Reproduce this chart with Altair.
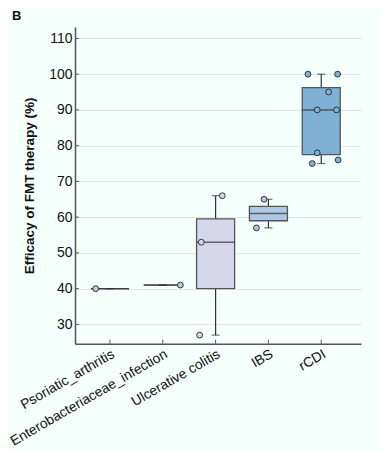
import altair as alt
import pandas as pd

categories = ["Psoriatic_arthritis", "Enterobacteriaceae_infection",
              "Ulcerative colitis", "IBS", "rCDI"]
point_category = ["Psoriatic_arthritis", "Enterobacteriaceae_infection",
                  "Ulcerative colitis", "Ulcerative colitis", "Ulcerative colitis",
                  "IBS", "IBS",
                  "rCDI", "rCDI", "rCDI", "rCDI", "rCDI", "rCDI", "rCDI", "rCDI"]
efficacy = [40, 41, 66, 53, 27, 65, 57, 100, 100, 95, 90, 90, 78, 75, 76]
# horizontal jitter of each dot, as a fraction of the category step
jitter = [-0.27, 0.333, 0.127, -0.27, -0.303, -0.083, -0.227,
          -0.252, 0.31, 0.14, -0.076, 0.29, -0.076, -0.17, 0.32]
y_ticks = [30, 40, 50, 60, 70, 80, 90, 100, 110]
fill_colors = ["#c4c4dc", "#c4c4dc", "#d7d7ea", "#aec7e5", "#7fb0d6"]

df = pd.DataFrame({"cat": point_category, "value": efficacy, "jit": jitter})
tick_df = pd.DataFrame({"t": y_ticks})

W = 286
H = 316.7
PAD_OUT = 0.207
BW = W / (len(categories) + 2 * PAD_OUT)
FONT = "Liberation Sans"

x_scale = alt.Scale(domain=categories, paddingInner=0, paddingOuter=PAD_OUT, align=0.39)
x_axis = alt.Axis(title=None, labelAngle=330, labelAlign="right", labelBaseline="top",
                  labelFontSize=13.8, labelColor="#111", labelPadding=3, ticks=False,
                  tickSize=0, domainColor="#555", domainWidth=1.5, grid=False,
                  labelFont=FONT, labelLimit=0)
y_scale = alt.Scale(domain=[24.6, 113.2], nice=False, zero=False)
y_axis = alt.Axis(title="Efficacy of FMT therapy (%)", values=y_ticks, ticks=False, tickSize=0,
                  labelFontSize=14, labelColor="#111", labelPadding=3, labelFont=FONT,
                  titleFontSize=13.5, titleFontWeight="bold", titleColor="#111",
                  titleFont=FONT, titlePadding=12,
                  domainColor="#555", domainWidth=1.5, grid=True,
                  gridColor="#e4e6e6", gridWidth=1)


def X():
    return alt.X("cat:N", scale=x_scale, sort=categories, axis=x_axis)


def Y(field):
    return alt.Y(field, type="quantitative", scale=y_scale, axis=y_axis)


fill = alt.Fill("cat:N", scale=alt.Scale(domain=categories, range=fill_colors), legend=None)

base = alt.Chart(df)
summary = base.transform_aggregate(
    q1="q1(value)", q3="q3(value)", med="median(value)",
    lo="min(value)", hi="max(value)", groupby=["cat"]
)

whisk_lo = summary.mark_rule(color="#333", strokeWidth=1.2).encode(
    x=X(), y=Y("lo"), y2="q1:Q")
whisk_hi = summary.mark_rule(color="#333", strokeWidth=1.2).encode(
    x=X(), y=Y("q3"), y2="hi:Q")
cap_lo = summary.mark_tick(color="#333", size=8, thickness=1.2).encode(x=X(), y=Y("lo"))
cap_hi = summary.mark_tick(color="#333", size=8, thickness=1.2).encode(x=X(), y=Y("hi"))
box = summary.mark_bar(width=38, stroke="#555", strokeWidth=1.3).encode(
    x=X(), y=Y("q1"), y2="q3:Q", fill=fill)
median = summary.mark_tick(color="#333", size=38, thickness=1.5).encode(x=X(), y=Y("med"))
points = base.mark_circle(size=34, stroke="#333", strokeWidth=1, opacity=1).encode(
    x=X(),
    xOffset=alt.XOffset("jit:Q", scale=alt.Scale(domain=[-0.5, 0.5], range=[0, BW])),
    y=Y("value"),
    fill=fill,
)
y_tick_marks = alt.Chart(tick_df).mark_rule(color="#555", strokeWidth=1).encode(
    y=Y("t"), x=alt.value(0), x2=alt.value(4))
x_tick_marks = summary.mark_rule(color="#555", strokeWidth=1).encode(
    x=X(), y=alt.value(H - 4), y2=alt.value(H))

chart = alt.layer(
    whisk_lo, whisk_hi, box, median, cap_lo, cap_hi, points, y_tick_marks, x_tick_marks
).properties(
    width=W, height=H,
    title=alt.TitleParams("B", anchor="start", frame="group", fontSize=13,
                          fontWeight="bold", font=FONT, color="#111", dx=-63),
    autosize=alt.AutoSizeParams(type="none"),
    padding={"left": 67, "top": 19, "right": 19, "bottom": 108},
).configure(
    background="#f5fffc",
).configure_view(
    stroke="transparent"
)

chart.save("out.html", embed_options={"renderer": "svg", "actions": False})
